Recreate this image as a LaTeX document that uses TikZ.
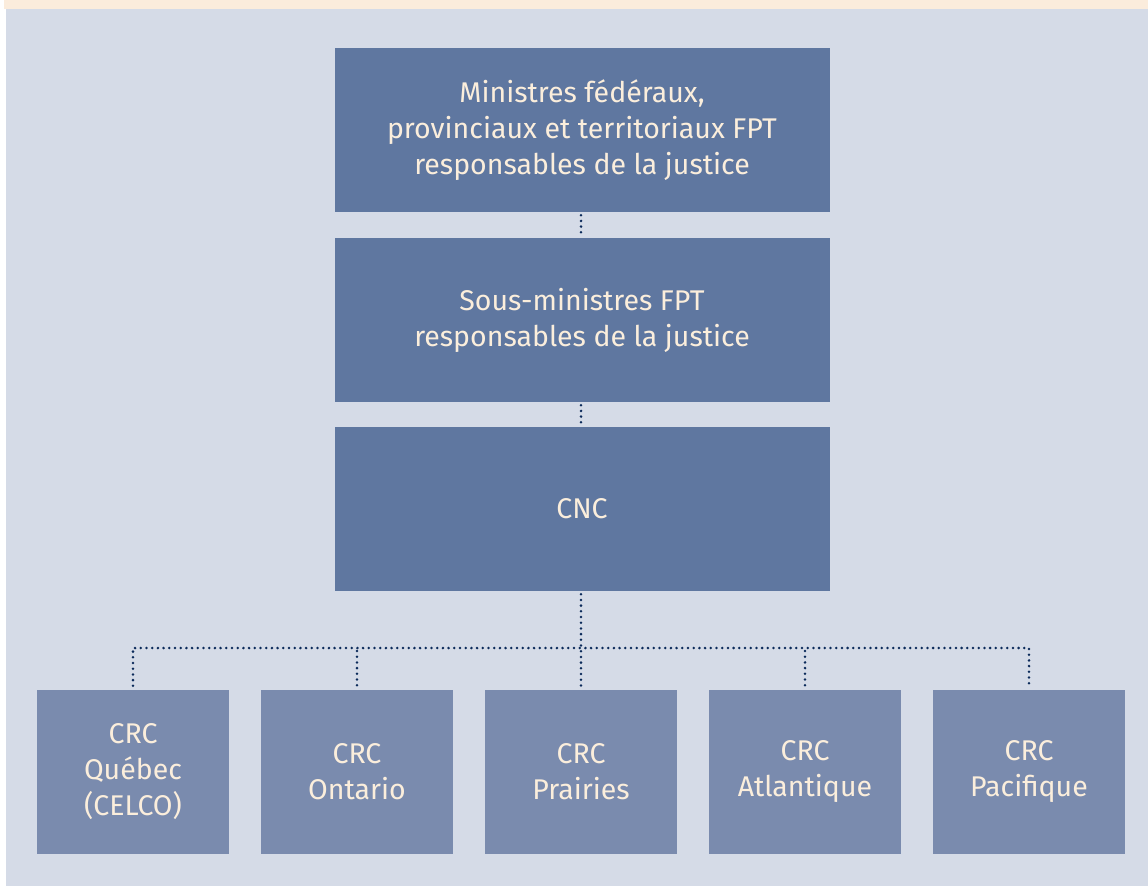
\documentclass[tikz,border=0pt]{standalone}
\usepackage{fontspec}
\setmainfont{Fira Sans}
\definecolor{bgblue}{HTML}{D5DBE7}
\definecolor{cream}{HTML}{FBECDC}
\definecolor{boxdark}{HTML}{5F77A0}
\definecolor{boxlight}{HTML}{7A8BAE}
\definecolor{txtcream}{HTML}{FBEEDC}
\definecolor{dotnavy}{HTML}{0B2A5A}
\begin{document}
\begin{tikzpicture}[x=1pt,y=-1pt,
  bigbox/.style={fill=boxdark, draw=none, minimum width=495pt, minimum height=164pt, inner sep=0pt, align=center, text=txtcream, font=\fontsize{28.5}{36}\selectfont},
  crcbox/.style={fill=boxlight, draw=none, minimum width=192pt, minimum height=164pt, inner sep=0pt, align=center, text=txtcream, font=\fontsize{28.5}{36}\selectfont},
  dotline/.style={draw=dotnavy, line width=2.8pt, line cap=round, dash pattern=on 0pt off 5.7pt}
]
\useasboundingbox (0,0) rectangle (1148,886);
\fill[white] (0,0) rectangle (1148,886);
\fill[cream] (4,0) rectangle (1148,9);
\fill[bgblue] (6,9) rectangle (1148,886);

\node[bigbox] (fpt) at (582,130) {Ministres fédéraux,\\provinciaux et territoriaux FPT\\responsables de la justice};
\node[bigbox] (sm) at (582,320) {Sous-ministres FPT\\responsables de la justice};
\node[bigbox] (cnc) at (582,509) {CNC};

\node[crcbox] (qc) at (133,772) {CRC\\Québec\\(CELCO)};
\node[crcbox] (on) at (357,772) {CRC\\Ontario};
\node[crcbox] (pr) at (581,772) {CRC\\Prairies};
\node[crcbox] (at) at (805,772) {CRC\\Atlantique};
\node[crcbox] (pa) at (1029,772) {CRC\\Pacifique};

\coordinate (bus) at (581,648);

\draw[dotline, shorten <=3pt, shorten >=3pt] (fpt.south -| bus) -- (sm.north -| bus);
\draw[dotline, shorten <=3pt, shorten >=3pt] (sm.south -| bus) -- (cnc.north -| bus);
\draw[dotline, shorten <=3pt, shorten >=4pt] (cnc.south -| bus) -- (pr.north);
\draw[dotline, shorten <=4pt, shorten >=4pt] (qc.north) |- (bus) -| (pa.north);
\draw[dotline, shorten >=4pt] (on.north |- bus) ++(0,3) -- (on.north);
\draw[dotline, shorten >=4pt] (at.north |- bus) ++(0,3) -- (at.north);
\end{tikzpicture}
\end{document}
